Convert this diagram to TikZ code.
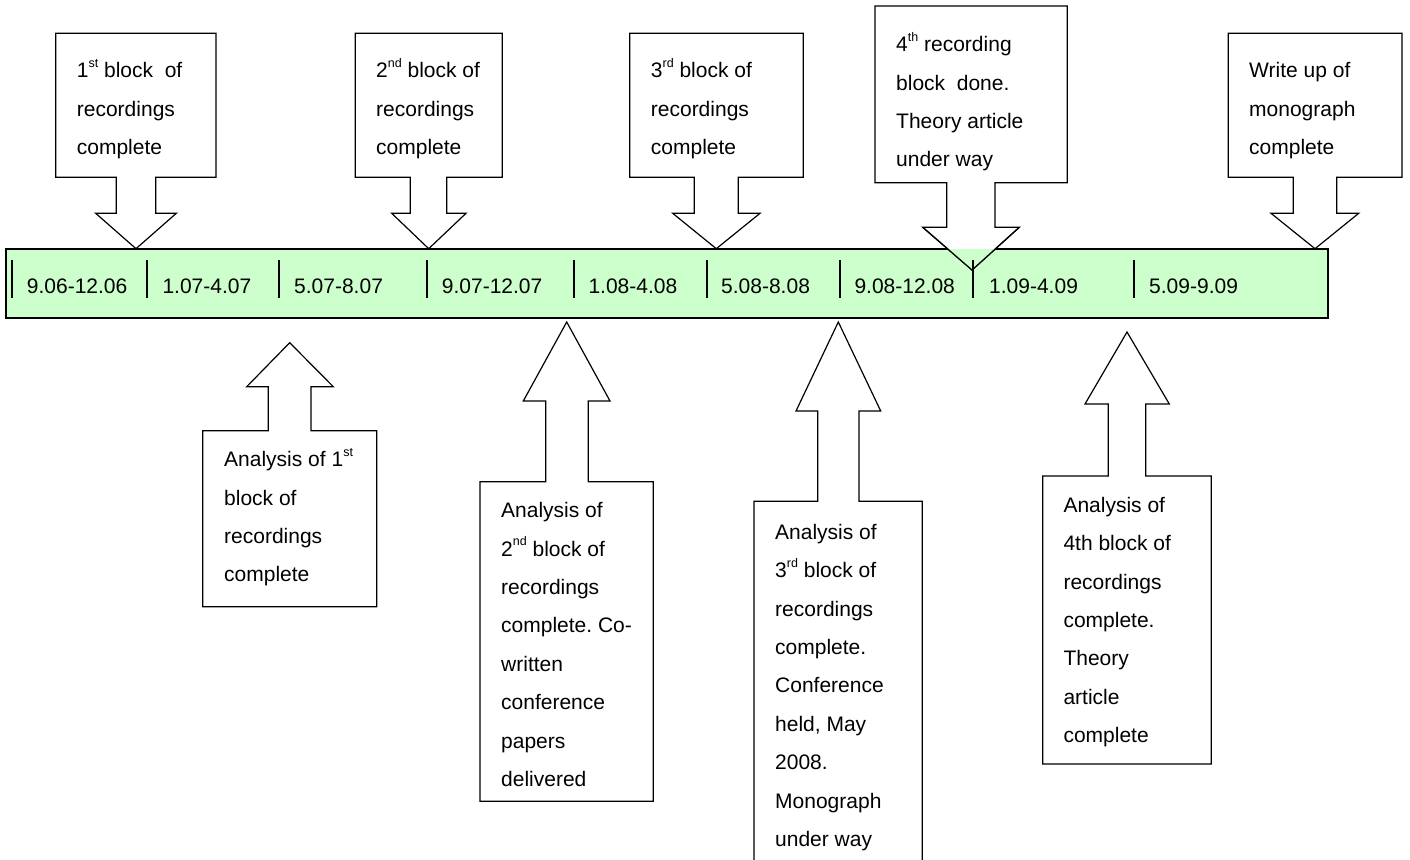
\documentclass[tikz,border=0pt]{standalone}
\usepackage{fontspec}
\setmainfont{Liberation Sans}
\usetikzlibrary{calc}
\frenchspacing
\definecolor{barfill}{HTML}{CCFFCC}
\def\supx#1{\raisebox{0.5em}{\fontsize{12.5}{12.5}\selectfont #1}}
\tikzset{
  callout/.style={draw=black, fill=white, line width=1.2pt, line join=miter},
  calltext/.style={anchor=base west, inner sep=0pt, align=left, font=\fontsize{21}{38.4}\selectfont},
  datelabel/.style={anchor=base west, inner sep=0pt, font=\fontsize{21}{24}\selectfont}
}

\begin{document}
\begin{tikzpicture}[x=1pt, y=-1pt]
	%%%%% START %%%%%
	\clip (0,0) rectangle (1410,859);
	\useasboundingbox (0,0) rectangle (1410,859);
	
	% time bar
	\fill[barfill] (6,249.3) rectangle (1327.7,318.3);
	\draw[line width=2pt] (6,249.3) rectangle (1327.7,318.3);
	
	% callouts above the bar
	\draw[callout] (55.7,33.3) -- (216,33.3) -- (216,177.3) -- (155.7,177.3) -- (155.7,213.3) -- (176.3,213.3) -- (136,248.7) -- (95.7,213.3) -- (116.3,213.3) -- (116.3,177.3) -- (55.7,177.3) -- cycle;
	\draw[callout] (355.3,33.3) -- (502.3,33.3) -- (502.3,177.3) -- (446.7,177.3) -- (446.7,213.3) -- (466,213.3) -- (428.7,248.7) -- (391.7,213.3) -- (410.3,213.3) -- (410.3,177.3) -- (355.3,177.3) -- cycle;
	\draw[callout] (629.7,33.3) -- (803.3,33.3) -- (803.3,177.3) -- (738.3,177.3) -- (738.3,213.3) -- (760,213.3) -- (716.3,248.7) -- (672.7,213.3) -- (694.3,213.3) -- (694.3,177.3) -- (629.7,177.3) -- cycle;
	\draw[callout] (875,6) -- (1067.3,6) -- (1067.3,182.7) -- (995,182.7) -- (995,227.3) -- (1019.3,227.3) -- (972,270) -- (922.7,227.3) -- (946.7,227.3) -- (946.7,182.7) -- (875,182.7) -- cycle;
	\draw[callout] (1228.3,33.3) -- (1402,33.3) -- (1402,177.3) -- (1336.7,177.3) -- (1336.7,213.3) -- (1358.7,213.3) -- (1315,248.7) -- (1271,213.3) -- (1293.3,213.3) -- (1293.3,177.3) -- (1228.3,177.3) -- cycle;
	
	% 4th arrow tip runs into the bar
	\begin{scope}
		\clip (6,249.3) rectangle (1327.7,318.3);
		\fill[barfill] (922.7,227.3) -- (1019.3,227.3) -- (972,270) -- cycle;
	\end{scope}
	\draw[line width=1.2pt] (1019.3,227.3) -- (972,270) -- (922.7,227.3);
	
	% dividers
	\draw[line width=2pt] (12,260) -- (12,298.3) (146.7,260) -- (146.7,298.3) (279.3,260) -- (279.3,298.3)
		(426.7,260) -- (426.7,298.3) (574,260) -- (574,298.3) (706.7,260) -- (706.7,298.3)
		(840,260) -- (840,298.3) (972.7,260) -- (972.7,298.3) (1134,260) -- (1134,298.3);
	
	\node[datelabel] (d1) at (26.7,293.3) {9.06-12.06};
	\node[datelabel] (d2) at (162.3,293.3) {1.07-4.07};
	\node[datelabel] (d3) at (294,293.3) {5.07-8.07};
	\node[datelabel] (d4) at (441.7,293.3) {9.07-12.07};
	\node[datelabel] (d5) at (588.3,293.3) {1.08-4.08};
	\node[datelabel] (d6) at (721,293.3) {5.08-8.08};
	\node[datelabel] (d7) at (854.3,293.3) {9.08-12.08};
	\node[datelabel] (d8) at (989,293.3) {1.09-4.09};
	\node[datelabel] (d9) at (1149,293.3) {5.09-9.09};
	
	% callouts below the bar
	\draw[callout] (289.7,342.7) -- (333.3,386.7) -- (311,386.7) -- (311,430.7) -- (376.7,430.7) -- (376.7,606.7) -- (202.7,606.7) -- (202.7,430.7) -- (268.3,430.7) -- (268.3,386.7) -- (246.7,386.7) -- cycle;
	\draw[callout] (566.7,322) -- (610,401) -- (588.3,401) -- (588.3,481.7) -- (653.3,481.7) -- (653.3,801.3) -- (480,801.3) -- (480,481.7) -- (545.7,481.7) -- (545.7,401) -- (523.3,401) -- cycle;
	\draw[callout] (838.3,322) -- (880.7,411) -- (859,411) -- (859,501.3) -- (922.3,501.3) -- (922.3,880) -- (754,880) -- (754,501.3) -- (817.7,501.3) -- (817.7,411) -- (796,411) -- cycle;
	\draw[callout] (1127,332) -- (1169.3,404) -- (1145.7,404) -- (1145.7,476) -- (1211.3,476) -- (1211.3,764) -- (1042.7,764) -- (1042.7,476) -- (1108.3,476) -- (1108.3,404) -- (1085,404) -- cycle;
	
	% texts (placed at the baseline of their last line)
	\node[calltext] (top1) at (76.7,154.5) {1\supx{st} block\ \ of\\recordings\\complete};
	\node[calltext] (top2) at (376,154.5) {2\supx{nd} block of\\recordings\\complete};
	\node[calltext] (top3) at (650.7,154.5) {3\supx{rd} block of\\recordings\\complete};
	\node[calltext] (top4) at (896,166.9) {4\supx{th} recording\\block\ \ done.\\Theory article\\under way};
	\node[calltext] (top5) at (1249,154.5) {Write up of\\monograph\\complete};
	
	\node[calltext] (bot1) at (224,581.9) {Analysis of 1\supx{st}\\block of\\recordings\\complete};
	\node[calltext] (bot2) at (501,786.5) {Analysis of\\2\supx{nd} block of\\recordings\\complete. Co-\\written\\conference\\papers\\delivered};
	\node[calltext] (bot3) at (775,846.5) {Analysis of\\3\supx{rd} block of\\recordings\\complete.\\Conference\\held, May\\2008.\\Monograph\\under way};
	\node[calltext] (bot4) at (1063.3,742.7) {Analysis of\\4th block of\\recordings\\complete.\\Theory\\article\\complete};
	%%%%% END %%%%%
\end{tikzpicture}
\end{document}
